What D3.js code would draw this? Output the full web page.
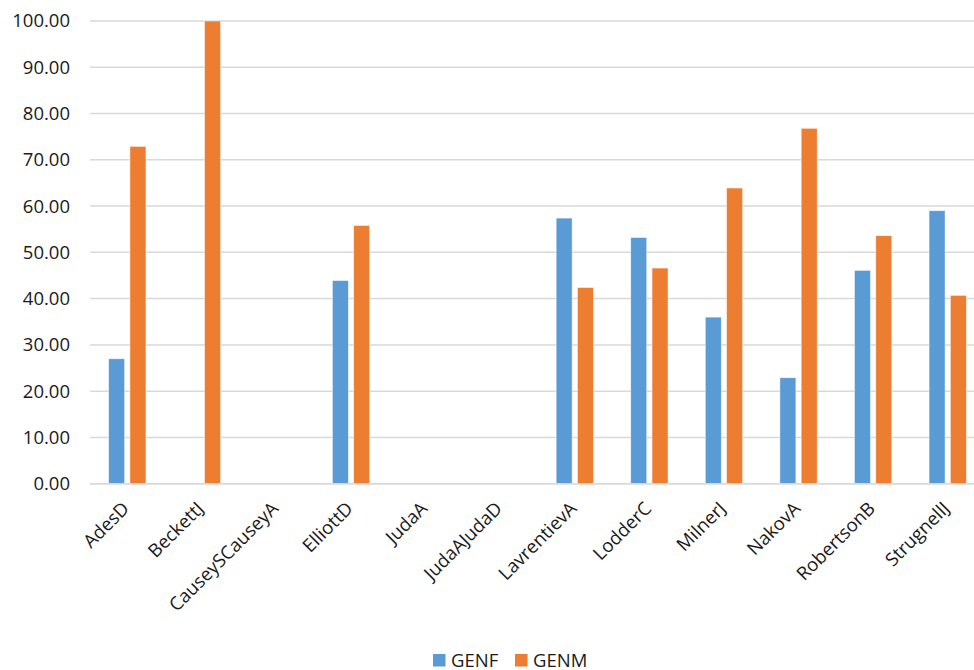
<!DOCTYPE html>
<html>
<head>
<meta charset="utf-8">
<script src="https://cdn.jsdelivr.net/npm/d3@7/dist/d3.min.js"></script>
<style>
  html, body { margin: 0; padding: 0; background: #fff; }
  svg { display: block; font-family: "Open Sans", sans-serif; }
</style>
</head>
<body>
<svg id="chart" width="974" height="670"></svg>
<script>
// Category names along the x axis
const categories = ["AdesD", "BeckettJ", "CauseySCauseyA", "ElliottD", "JudaA", "JudaAJudaD",
  "LavrentievA", "LodderC", "MilnerJ", "NakovA", "RobertsonB", "StrugnellJ"];

// Series names and values (null = no bar)
const seriesNames = ["GENF", "GENM"];
const genf = [27.0, null, null, 43.9, null, null, 57.4, 53.2, 36.0, 22.9, 46.1, 59.0];
const genm = [72.9, 100.0, null, 55.8, null, null, 42.4, 46.6, 63.9, 76.8, 53.6, 40.7];

// Y axis ticks
const yTicks = [0, 10, 20, 30, 40, 50, 60, 70, 80, 90, 100];

const colors = { GENF: "#5B9BD5", GENM: "#ED7D31" };
const textColor = "#1a1a1a";
const fontSize = 18.5;

const svg = d3.select("#chart");
const plot = { left: 90, right: 985, top: 21, bottom: 483.7 };

const x0 = d3.scaleBand()
  .domain(categories)
  .range([plot.left, plot.right])
  .paddingInner(0.5)
  .paddingOuter(0.25);

const x1 = d3.scaleBand()
  .domain(seriesNames)
  .range([0, x0.bandwidth()])
  .paddingInner(0.25);

const y = d3.scaleLinear().domain([0, 100]).range([plot.bottom, plot.top]);

// Horizontal gridlines
svg.append("g")
  .selectAll("line")
  .data(yTicks)
  .join("line")
  .attr("x1", plot.left)
  .attr("x2", 974)
  .attr("y1", d => y(d))
  .attr("y2", d => y(d))
  .attr("stroke", "#d9d9d9")
  .attr("stroke-width", 1.5);

// Y axis labels
const yAxis = d3.axisLeft(y).tickValues(yTicks).tickFormat(d3.format(".2f")).tickSize(0).tickPadding(0);
const yg = svg.append("g").attr("transform", "translate(70,0)").call(yAxis);
yg.select(".domain").remove();
yg.selectAll("text")
  .attr("font-family", "'Open Sans', sans-serif")
  .attr("font-size", fontSize)
  .attr("fill", textColor);

// Bars
const rows = categories.map((c, i) => ({ cat: c, values: [
  { key: "GENF", value: genf[i] },
  { key: "GENM", value: genm[i] }
] }));

svg.append("g")
  .selectAll("g")
  .data(rows)
  .join("g")
  .attr("transform", d => `translate(${x0(d.cat)},0)`)
  .selectAll("rect")
  .data(d => d.values.filter(v => v.value != null))
  .join("rect")
  .attr("x", d => x1(d.key))
  .attr("width", x1.bandwidth())
  .attr("y", d => y(d.value))
  .attr("height", d => y(0) - y(d.value))
  .attr("fill", d => colors[d.key])
  .attr("stroke", "#fff")
  .attr("stroke-opacity", 0.6)
  .attr("stroke-width", 0.75);

// Baseline
svg.append("line")
  .attr("x1", plot.left).attr("x2", 974)
  .attr("y1", y(0)).attr("y2", y(0))
  .attr("stroke", "#d9d9d9").attr("stroke-width", 1.5);

// Rotated category labels
svg.append("g")
  .selectAll("text")
  .data(categories)
  .join("text")
  .attr("transform", d => `translate(${x0(d) + x0.bandwidth() / 2 + 3},${plot.bottom + 26}) rotate(-45)`)
  .attr("text-anchor", "end")
  .attr("font-size", fontSize)
  .attr("fill", textColor)
  .text(d => d);

// Legend
const legendX = [433, 515];
const legend = svg.append("g")
  .selectAll("g")
  .data(seriesNames)
  .join("g")
  .attr("transform", (d, i) => `translate(${legendX[i]},654)`);
legend.append("rect")
  .attr("width", 12.5).attr("height", 12.5)
  .attr("fill", d => colors[d]);
legend.append("text")
  .attr("x", 18).attr("y", 12.5)
  .attr("font-size", fontSize)
  .attr("fill", textColor)
  .text(d => d);
</script>
</body>
</html>
